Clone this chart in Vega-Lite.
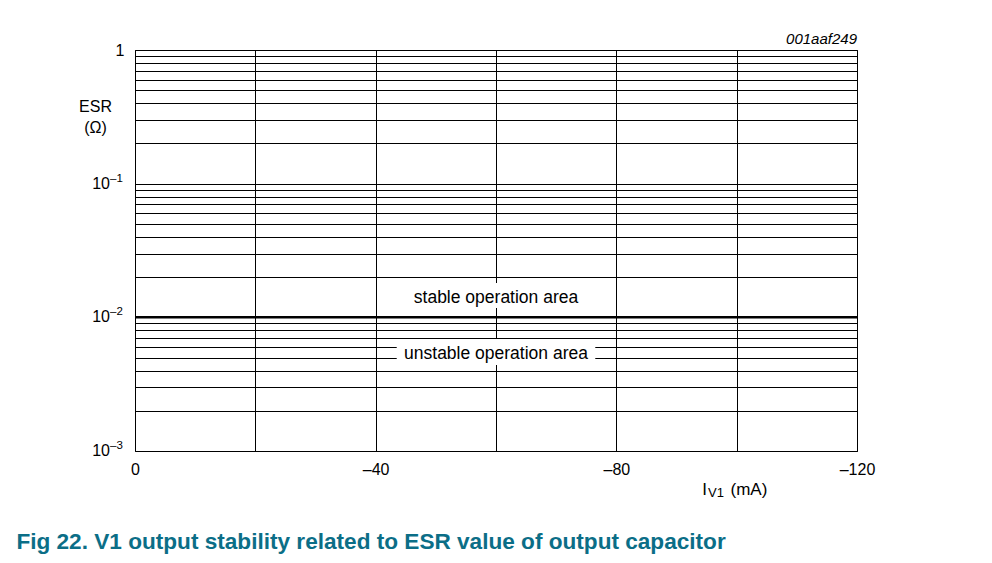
{
  "$schema": "https://vega.github.io/schema/vega-lite/v6.json",
  "width": 722,
  "height": 401,
  "autosize": {"type": "none"},
  "padding": {"left": 135, "top": 50, "right": 135, "bottom": 112},
  "background": "white",
  "config": {
    "font": "Liberation Sans",
    "view": {"stroke": "black", "strokeWidth": 1},
    "axis": {
      "domain": false,
      "ticks": false,
      "grid": true,
      "gridColor": "black",
      "gridOpacity": 1,
      "gridWidth": 1,
      "labelColor": "black",
      "labelFont": "Liberation Sans",
      "labelFontSize": 16,
      "labelOverlap": false,
      "labelFlush": false
    }
  },
  "title": {
    "text": "Fig 22. V1 output stability related to ESR value of output capacitor",
    "orient": "bottom",
    "anchor": "start",
    "frame": "group",
    "dx": -118.6,
    "offset": 49,
    "font": "Liberation Sans",
    "fontSize": 22.6,
    "fontWeight": "bold",
    "color": "#0b6e87",
    "baseline": "alphabetic"
  },
  "datasets": {
    "boxes": [
      {"x1": -43.5, "x2": -76.5, "y1": 0.00689, "y2": 0.0044},
      {"x1": -45, "x2": -75, "y1": 0.01807, "y2": 0.01175}
    ],
    "threshold": [{"esr": 0.01}],
    "regions": [
      {"current": -60, "esr": 0.01287, "label": "stable operation area"},
      {"current": -60, "esr": 0.00485, "label": "unstable operation area"}
    ],
    "decades": [
      {"esr": 0.1, "base": "10", "exp": "\u20131"},
      {"esr": 0.01, "base": "10", "exp": "\u20132"},
      {"esr": 0.001, "base": "10", "exp": "\u20133"}
    ]
  },
  "layer": [
    {
      "data": {"name": "boxes"},
      "mark": {"type": "rect", "fill": "white", "stroke": null},
      "encoding": {
        "x": {
          "field": "x1",
          "type": "quantitative",
          "scale": {"domain": [-120, 0], "reverse": true, "nice": false, "zero": false},
          "axis": {
            "values": [0, -20, -40, -60, -80, -100, -120],
            "labelExpr": "datum.value == 0 ? '0' : (datum.value % 40 == 0 ? '\u2013' + abs(datum.value) : '')",
            "labelPadding": 10,
            "title": null
          }
        },
        "x2": {"field": "x2"},
        "y": {
          "field": "y1",
          "type": "quantitative",
          "scale": {"type": "log", "domain": [0.001, 1], "nice": false},
          "axis": {
            "values": [0.001, 0.002, 0.003, 0.004, 0.005, 0.006, 0.007, 0.008, 0.009, 0.01, 0.02, 0.03, 0.04, 0.05, 0.06, 0.07, 0.08, 0.09, 0.1, 0.2, 0.3, 0.4, 0.5, 0.6, 0.7, 0.8, 0.9, 1],
            "labelExpr": "datum.value == 1 ? '1' : ''",
            "labelPadding": 11,
            "labelBaseline": "middle",
            "title": ["ESR", "(\u03A9)"],
            "titleAngle": 0,
            "titleAlign": "center",
            "titleBaseline": "alphabetic",
            "titleX": -40,
            "titleY": 61,
            "titleFont": "Liberation Sans",
            "titleFontSize": 16,
            "titleFontWeight": "normal",
            "titleColor": "black",
            "titleLineHeight": 21
          }
        },
        "y2": {"field": "y2"}
      }
    },
    {
      "data": {"name": "threshold"},
      "mark": {"type": "rule", "strokeWidth": 2.5, "color": "black"},
      "encoding": {"y": {"field": "esr", "type": "quantitative"}}
    },
    {
      "data": {"name": "regions"},
      "mark": {"type": "text", "fontSize": 17.5, "baseline": "alphabetic", "align": "center", "color": "black"},
      "encoding": {
        "x": {"field": "current", "type": "quantitative"},
        "y": {"field": "esr", "type": "quantitative"},
        "text": {"field": "label"}
      }
    },
    {
      "data": {"name": "decades"},
      "mark": {"type": "text", "fontSize": 16, "align": "right", "baseline": "middle", "dx": -25, "color": "black", "clip": false},
      "encoding": {
        "x": {"datum": 0, "type": "quantitative"},
        "y": {"field": "esr", "type": "quantitative"},
        "text": {"field": "base"}
      }
    },
    {
      "data": {"name": "decades"},
      "mark": {"type": "text", "fontSize": 11.5, "align": "left", "baseline": "middle", "dx": -25, "dy": -5, "color": "black", "clip": false},
      "encoding": {
        "x": {"datum": 0, "type": "quantitative"},
        "y": {"field": "esr", "type": "quantitative"},
        "text": {"field": "exp"}
      }
    },
    {
      "data": {"values": [{}]},
      "mark": {"type": "text", "text": "I", "fontSize": 17, "align": "left", "baseline": "alphabetic", "dx": -34.3, "dy": 43.5, "color": "black"},
      "encoding": {"x": {"datum": -100, "type": "quantitative"}, "y": {"datum": 0.001, "type": "quantitative"}}
    },
    {
      "data": {"values": [{}]},
      "mark": {"type": "text", "text": "V1", "fontSize": 13, "align": "left", "baseline": "alphabetic", "dx": -28.7, "dy": 46, "color": "black"},
      "encoding": {"x": {"datum": -100, "type": "quantitative"}, "y": {"datum": 0.001, "type": "quantitative"}}
    },
    {
      "data": {"values": [{}]},
      "mark": {"type": "text", "text": "(mA)", "fontSize": 17, "align": "left", "baseline": "alphabetic", "dx": -6.2, "dy": 43.5, "color": "black"},
      "encoding": {"x": {"datum": -100, "type": "quantitative"}, "y": {"datum": 0.001, "type": "quantitative"}}
    },
    {
      "data": {"values": [{}]},
      "mark": {"type": "text", "text": "001aaf249", "fontSize": 15, "fontStyle": "italic", "align": "right", "baseline": "alphabetic", "dy": -6, "color": "black"},
      "encoding": {"x": {"datum": -120, "type": "quantitative"}, "y": {"datum": 1, "type": "quantitative"}}
    }
  ]
}
